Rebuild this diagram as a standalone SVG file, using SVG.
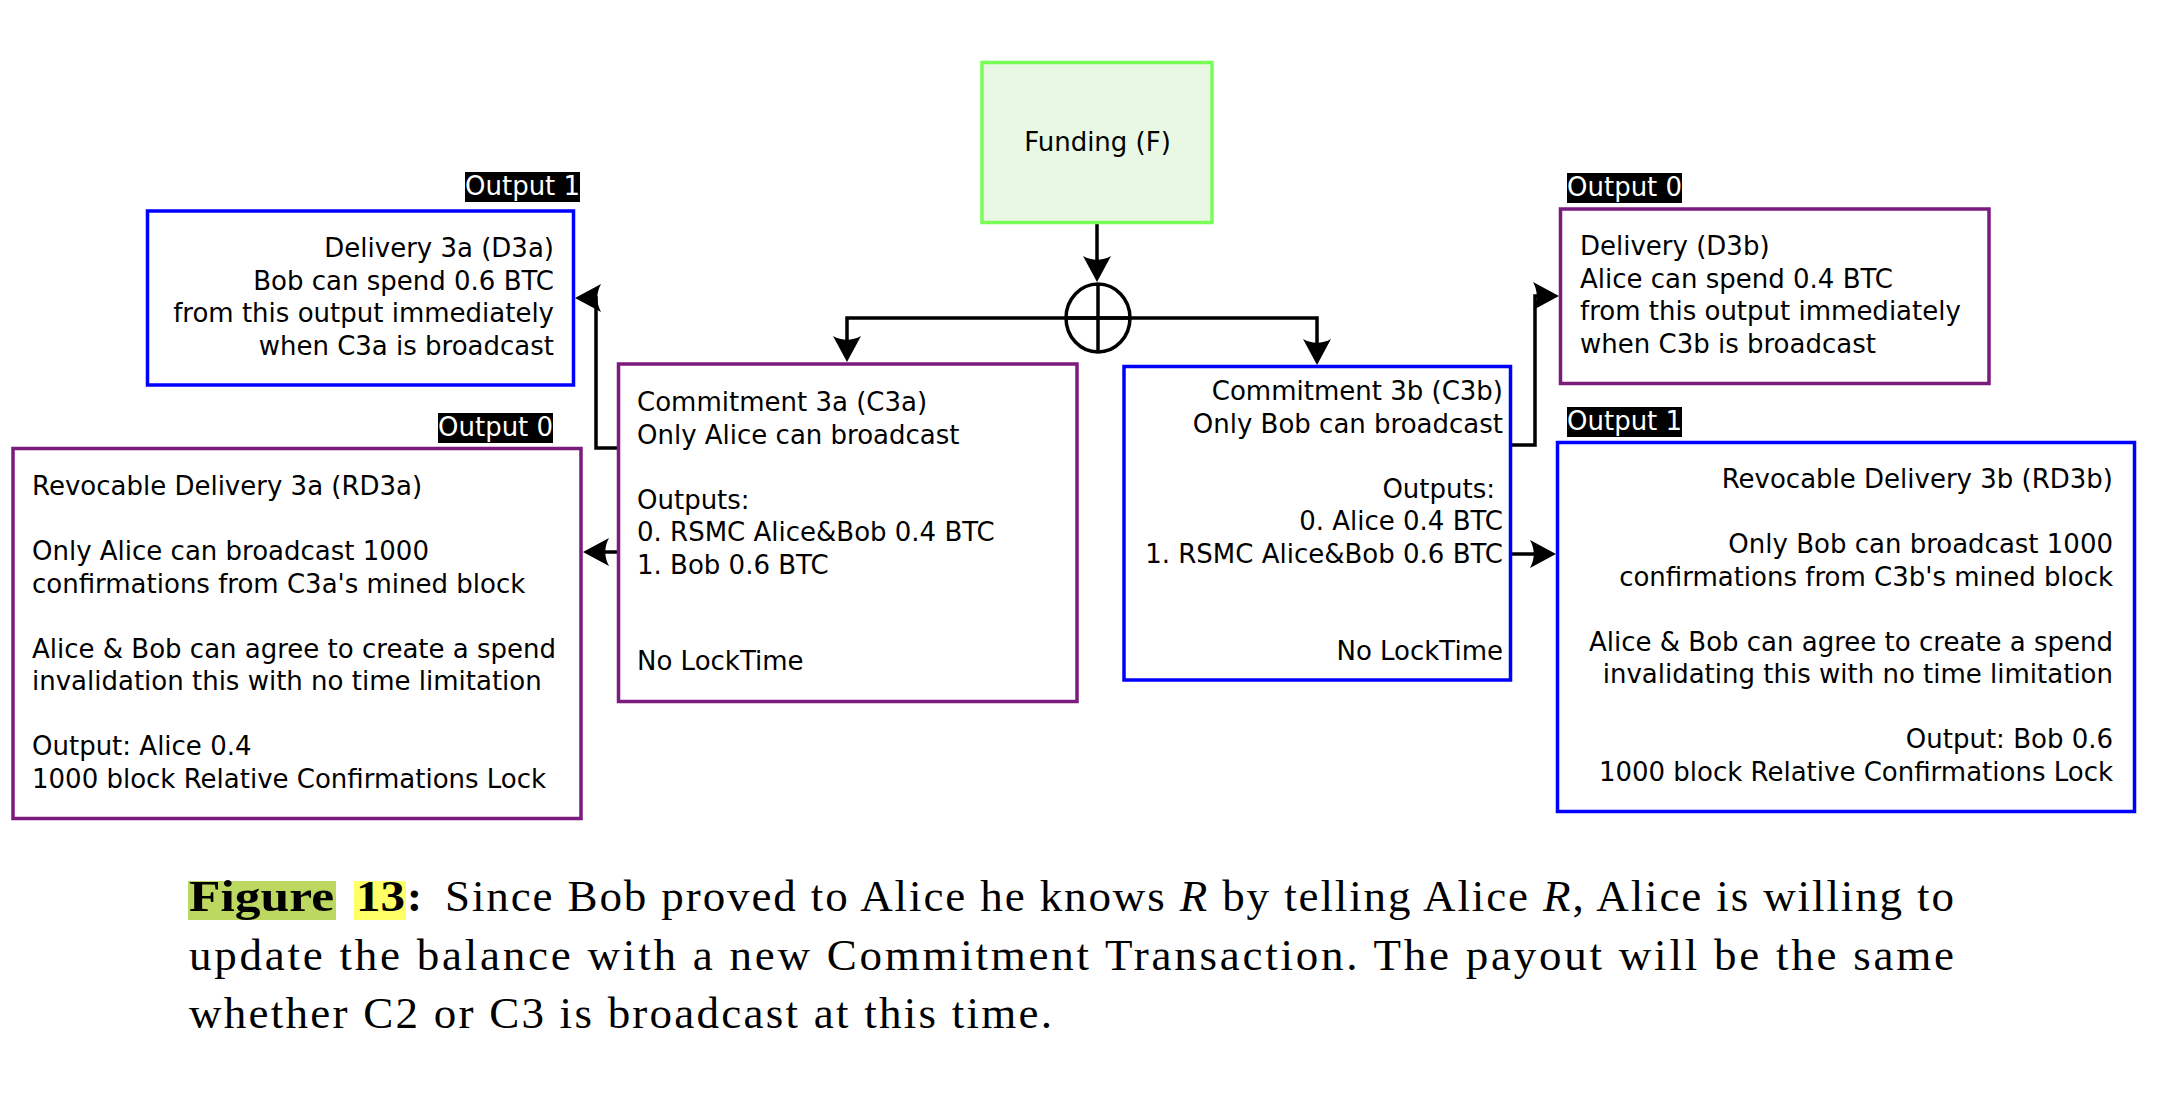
<svg xmlns="http://www.w3.org/2000/svg" width="2172" height="1100" viewBox="0 0 2172 1100">
<style>
.box{fill:#ffffff;stroke-width:3.5}
.blue{stroke:#0000ff}
.purple{stroke:#7d1a7d}
.t{font-family:"DejaVu Sans",sans-serif;font-size:26px;fill:#000000}
.e{text-anchor:end}
.lbl{fill:#000000}
.lt{font-family:"DejaVu Sans",sans-serif;font-size:26px;fill:#ffffff}
.con{fill:none;stroke:#000000;stroke-width:3.5;stroke-linejoin:miter}
.cap{font-family:"Liberation Serif","Times New Roman",serif;font-size:45px;fill:#000000}
.b{font-weight:bold}
.i{font-style:italic}
</style>
<defs>
<marker id="arr" markerUnits="userSpaceOnUse" viewBox="-30 -16 34 32" markerWidth="34" markerHeight="32" refX="-4" refY="0" orient="auto" overflow="visible">
<path d="M0,0 L-26,-14 C-21,-5 -21,5 -26,14 Z" fill="#000000"/>
</marker>
</defs>
<rect width="2172" height="1100" fill="#ffffff"/>

<g id="connectors">
<path class="con" d="M1097,222 V278" marker-end="url(#arr)"/>
<path class="con" d="M1098,318 H847 V358" marker-end="url(#arr)"/>
<path class="con" d="M1098,318 H1317 V361" marker-end="url(#arr)"/>
<path class="con" d="M617,448 H596 V298 H579" marker-end="url(#arr)"/>
<path class="con" d="M617,552 H587" marker-end="url(#arr)"/>
<path class="con" d="M1511,445 H1535 V296 H1555" marker-end="url(#arr)"/>
<path class="con" d="M1511,554 H1552" marker-end="url(#arr)"/>
</g>

<g id="split">
<ellipse cx="1098" cy="318" rx="32" ry="34" fill="none" stroke="#000000" stroke-width="3.5"/>
<path class="con" d="M1098,284 V352 M1066,318 H1130"/>
</g>

<g id="funding">
<rect x="982" y="62.5" width="230" height="160" fill="#e8f8e4" stroke="#77ff55" stroke-width="3.5"/>
<text class="t" x="1097.5" y="151" text-anchor="middle">Funding (F)</text>
</g>

<g id="d3a">
<rect class="box blue" x="147.5" y="211" width="426" height="174"/>
<text class="t e" x="554" y="257">Delivery 3a (D3a)</text>
<text class="t e" x="554" y="289.5">Bob can spend 0.6 BTC</text>
<text class="t e" x="554" y="322">from this output immediately</text>
<text class="t e" x="554" y="354.5">when C3a is broadcast</text>
<rect class="lbl" x="465" y="172" width="115" height="30"/>
<text class="lt" x="465" y="195">Output 1</text>
</g>

<g id="rd3a">
<rect class="box purple" x="13" y="448.5" width="568" height="370"/>
<text class="t" x="32" y="495">Revocable Delivery 3a (RD3a)</text>
<text class="t" x="32" y="560">Only Alice can broadcast 1000</text>
<text class="t" x="32" y="592.5">confirmations from C3a's mined block</text>
<text class="t" x="32" y="657.5">Alice &amp; Bob can agree to create a spend</text>
<text class="t" x="32" y="690">invalidation this with no time limitation</text>
<text class="t" x="32" y="755">Output: Alice 0.4</text>
<text class="t" x="32" y="787.5">1000 block Relative Confirmations Lock</text>
<rect class="lbl" x="438" y="413" width="115" height="30"/>
<text class="lt" x="438" y="436">Output 0</text>
</g>

<g id="c3a">
<rect class="box purple" x="618.5" y="364" width="458.5" height="337.5"/>
<text class="t" x="637" y="411">Commitment 3a (C3a)</text>
<text class="t" x="637" y="443.5">Only Alice can broadcast</text>
<text class="t" x="637" y="508.5">Outputs:</text>
<text class="t" x="637" y="541">0. RSMC Alice&amp;Bob 0.4 BTC</text>
<text class="t" x="637" y="573.5">1. Bob 0.6 BTC</text>
<text class="t" x="637" y="670">No LockTime</text>
</g>

<g id="c3b">
<rect class="box blue" x="1124" y="366.5" width="386.5" height="313.5"/>
<text class="t e" x="1503" y="400">Commitment 3b (C3b)</text>
<text class="t e" x="1503" y="432.5">Only Bob can broadcast</text>
<text class="t e" x="1495" y="497.5">Outputs:</text>
<text class="t e" x="1503" y="530">0. Alice 0.4 BTC</text>
<text class="t e" x="1503" y="562.5">1. RSMC Alice&amp;Bob 0.6 BTC</text>
<text class="t e" x="1503" y="660">No LockTime</text>
</g>

<g id="d3b">
<rect class="box purple" x="1560.5" y="209" width="428.5" height="174.5"/>
<text class="t" x="1580" y="255">Delivery (D3b)</text>
<text class="t" x="1580" y="287.5">Alice can spend 0.4 BTC</text>
<text class="t" x="1580" y="320">from this output immediately</text>
<text class="t" x="1580" y="352.5">when C3b is broadcast</text>
<rect class="lbl" x="1567" y="173" width="115" height="30"/>
<text class="lt" x="1567" y="196">Output 0</text>
</g>

<g id="rd3b">
<rect class="box blue" x="1557.5" y="442.5" width="577" height="369"/>
<text class="t e" x="2113" y="488">Revocable Delivery 3b (RD3b)</text>
<text class="t e" x="2113" y="553">Only Bob can broadcast 1000</text>
<text class="t e" x="2113" y="585.5">confirmations from C3b's mined block</text>
<text class="t e" x="2113" y="650.5">Alice &amp; Bob can agree to create a spend</text>
<text class="t e" x="2113" y="683">invalidating this with no time limitation</text>
<text class="t e" x="2113" y="748">Output: Bob 0.6</text>
<text class="t e" x="2113" y="780.5">1000 block Relative Confirmations Lock</text>
<rect class="lbl" x="1567" y="407" width="115" height="30"/>
<text class="lt" x="1567" y="430">Output 1</text>
</g>

<g id="caption">
<rect x="188" y="881" width="148" height="39" fill="#bcd860"/>
<rect x="354" y="881" width="52" height="39" fill="#ffff66"/>
<text class="cap b" x="189" y="911" textLength="145" lengthAdjust="spacingAndGlyphs">Figure</text>
<text class="cap b" x="356" y="911" textLength="49" lengthAdjust="spacingAndGlyphs">13</text>
<text class="cap b" x="407" y="911">:</text>
<text class="cap" x="445" y="911" textLength="1509" lengthAdjust="spacing">Since Bob proved to Alice he knows <tspan class="i">R</tspan> by telling Alice <tspan class="i">R</tspan>, Alice is willing to</text>
<text class="cap" x="189" y="970" textLength="1765" lengthAdjust="spacing">update the balance with a new Commitment Transaction.  The payout will be the same</text>
<text class="cap" x="189" y="1028" textLength="863" lengthAdjust="spacing">whether C2 or C3 is broadcast at this time.</text>
</g>
</svg>
